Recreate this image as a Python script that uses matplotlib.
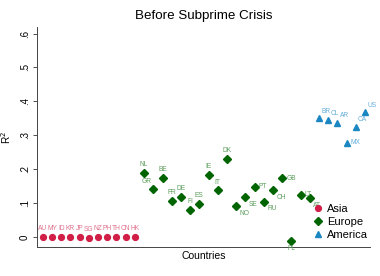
import matplotlib
matplotlib.use("Agg")
import matplotlib.pyplot as plt
from matplotlib.lines import Line2D

plt.rcParams['font.family'] = ['Liberation Sans', 'DejaVu Sans']

# data (R^2 per country, ordered by region)
asia = ['AU', 'MY', 'ID', 'KR', 'JP', 'SG', 'NZ', 'PH', 'TH', 'CN', 'HK']
asia_r2 = [0.002, 0.0, 0.001, 0.0, 0.0, -0.002, 0.0, 0.002, 0.0, 0.0, 0.0]

europe = ['NL', 'GR', 'BE', 'FR', 'DE', 'FI', 'ES', 'IE', 'IT', 'DK',
          'NO', 'SE', 'PT', 'RU', 'CH', 'GB', 'PL', 'LT', 'AT']
europe_r2 = [0.190, 0.141, 0.176, 0.107, 0.119, 0.080, 0.099, 0.184, 0.138, 0.230,
             0.091, 0.118, 0.149, 0.104, 0.138, 0.174, -0.011, 0.126, 0.115]

america = ['BR', 'CL', 'AR', 'MX', 'CA', 'US']
america_r2 = [0.351, 0.345, 0.338, 0.278, 0.326, 0.368]

yticks = [0, 0.1, 0.2, 0.3, 0.4, 0.5, 0.6]
ytick_labels = ['0', '.1', '.2', '.3', '.4', '.5', '.6']

# label placement (offset in points), default is straight above
label_pos = {'GR': 'nw', 'NO': 'se', 'SE': 'se', 'PT': 'e', 'RU': 'se', 'CH': 'se',
             'GB': 'e', 'PL': 's', 'LT': 'e', 'AT': 'se',
             'BR': 'ne', 'CL': 'ne', 'AR': 'ne', 'MX': 'e', 'CA': 'ne', 'US': 'ne'}
offsets = {'n': (0, 3.5, 'center', 'bottom'), 'nw': (-1.5, 3, 'right', 'bottom'),
           'ne': (1.5, 2.5, 'left', 'bottom'), 'e': (3, 0, 'left', 'center'),
           'se': (2.5, -2.5, 'left', 'top'), 's': (0, -3, 'center', 'top')}

fig = plt.figure(figsize=(3.8, 2.76), dpi=100)
ax = fig.add_axes([0.097, 0.105, 0.877, 0.797])

groups = [
    (asia, asia_r2, '#d11f48', '#e0708c', 'o', 4.2, 'Asia'),
    (europe, europe_r2, '#006400', '#5c9e5c', 'D', 4.0, 'Europe'),
    (america, america_r2, '#1a87c2', '#62addb', '^', 4.6, 'America'),
]

start = 1
handles = []
for names, vals, col, lcol, mk, ms, lab in groups:
    xs = list(range(start, start + len(names)))
    start += len(names)
    ax.plot(xs, vals, linestyle='none', marker=mk, ms=ms, color=col, mec=col)
    for x, y, n in zip(xs, vals, names):
        dx, dy, ha, va = offsets[label_pos.get(n, 'n')]
        ax.annotate(n, (x, y), xytext=(dx, dy), textcoords='offset points',
                    ha=ha, va=va, fontsize=4.8, color=lcol)
    handles.append(Line2D([], [], linestyle='none', marker=mk, ms=ms, color=col, label=lab))

ax.set_xlim(0.35, 36.55)
ax.set_ylim(-0.0285, 0.619)
ax.set_xticks([])
ax.set_yticks(yticks)
ax.set_yticklabels(ytick_labels, rotation=90, va='center', fontsize=7)
ax.tick_params(axis='y', length=3, width=0.6, pad=2, color='#333333')

for s in ['top', 'right']:
    ax.spines[s].set_visible(False)
for s in ['left', 'bottom']:
    ax.spines[s].set_linewidth(0.7)
    ax.spines[s].set_color('#444444')

ax.set_title('Before Subprime Crisis', fontsize=9.6, pad=6)
ax.set_xlabel('Countries', fontsize=7.5, labelpad=3)
ax.set_ylabel('R$^2$', fontsize=7.2, labelpad=5)

ax.legend(handles=handles, loc='lower left', bbox_to_anchor=(0.81, 0.0),
          frameon=False, fontsize=8, handlelength=0.8, handletextpad=0.4,
          labelspacing=0.3, borderaxespad=0.2)

fig.savefig('out.png', dpi=100)
